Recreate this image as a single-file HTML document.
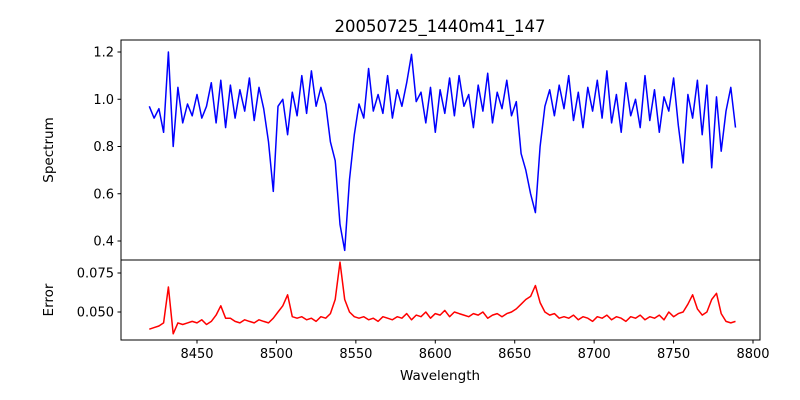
<!DOCTYPE html>
<html><head><meta charset="utf-8"><style>
body{margin:0;background:#fff}
svg{display:block;font-family:"DejaVu Sans","Liberation Sans",sans-serif}
</style></head><body>
<svg id="c" width="800" height="400" viewBox="0 0 800 400">
<rect width="800" height="400" fill="#fff"/>
<text x="440" y="32" text-anchor="middle" font-size="16.5">20050725_1440m41_147</text>
<g id="topPanel"></g>
<g id="botPanel"></g>
<text transform="translate(53,150) rotate(-90)" text-anchor="middle" font-size="13.5">Spectrum</text>
<text transform="translate(53,300) rotate(-90)" text-anchor="middle" font-size="13.5">Error</text>
<text x="440" y="380" text-anchor="middle" font-size="13.5">Wavelength</text>
</svg>
<script>
const wlStart = 8420;
const wlStep = 3;
const spectrum = [0.97,0.92,0.96,0.86,1.20,0.80,1.05,0.90,0.98,0.93,
1.02,0.92,0.97,1.07,0.90,1.08,0.88,1.06,0.92,1.04,
0.95,1.09,0.91,1.05,0.96,0.82,0.61,0.97,1.00,0.85,
1.03,0.93,1.10,0.94,1.12,0.97,1.05,0.98,0.82,0.74,
0.47,0.36,0.66,0.85,0.98,0.92,1.13,0.95,1.02,0.94,
1.10,0.92,1.04,0.97,1.07,1.19,0.99,1.03,0.90,1.05,
0.86,1.04,0.94,1.09,0.93,1.10,0.97,1.02,0.88,1.06,
0.95,1.11,0.90,1.03,0.96,1.08,0.93,0.99,0.77,0.70,
0.60,0.52,0.80,0.97,1.04,0.93,1.06,0.96,1.10,0.91,
1.03,0.88,1.05,0.95,1.08,0.92,1.12,0.90,1.02,0.86,
1.07,0.93,1.00,0.88,1.10,0.91,1.04,0.86,1.01,0.95,
1.09,0.89,0.73,1.02,0.92,1.08,0.85,1.06,0.71,1.01,
0.78,0.95,1.05,0.88];
const errorVals = [.039,.040,.041,.043,.066,.036,.043,.042,.043,.044,
.043,.045,.042,.044,.048,.054,.046,.046,.044,.043,
.045,.044,.043,.045,.044,.043,.046,.050,.054,.061,
.047,.046,.047,.045,.046,.044,.047,.046,.049,.058,
.082,.058,.050,.047,.046,.047,.045,.046,.044,.047,
.046,.045,.047,.046,.049,.045,.048,.047,.050,.046,
.049,.048,.051,.047,.050,.049,.048,.047,.049,.048,
.050,.046,.048,.049,.047,.049,.050,.052,.055,.058,
.060,.067,.056,.050,.048,.049,.046,.047,.046,.048,
.045,.047,.046,.044,.047,.046,.048,.045,.047,.046,
.044,.047,.046,.048,.045,.047,.046,.048,.045,.050,
.047,.049,.050,.055,.061,.052,.048,.050,.058,.062,
.049,.044,.043,.044];
const xTicks = [8450,8500,8550,8600,8650,8700,8750,8800];
const topTicks = [0.4,0.6,0.8,1.0,1.2];
const botTicks = [0.050,0.075];

const NS='http://www.w3.org/2000/svg';
const L=121,R=760,T1=40,B1=260,T2=260,B2=340;
const xs=v=>197+(v-8450)*1.5886;
const yTop=v=>52+(1.2-v)*236.25;
const yBot=v=>312-(v-0.05)*1560;
function mk(tag,attrs,parent){const e=document.createElementNS(NS,tag);for(const k in attrs)e.setAttribute(k,attrs[k]);parent.appendChild(e);return e;}
const topG=document.getElementById('topPanel'),botG=document.getElementById('botPanel');

let p=spectrum.map((v,i)=>(i?'L':'M')+xs(wlStart+i*wlStep).toFixed(1)+','+yTop(v).toFixed(1)).join('');
const l1=mk('path',{d:p,fill:'none',stroke:'#0000ff','stroke-width':1.5,'stroke-linejoin':'round'},topG);


p=errorVals.map((v,i)=>(i?'L':'M')+xs(wlStart+i*wlStep).toFixed(1)+','+yBot(v).toFixed(1)).join('');
const l2=mk('path',{d:p,fill:'none',stroke:'#ff0000','stroke-width':1.5,'stroke-linejoin':'round'},botG);



const f1=mk('rect',{x:L,y:T1,width:R-L,height:B1-T1,fill:'none',stroke:'#000','stroke-width':1},topG);


const f2=mk('rect',{x:L,y:T2,width:R-L,height:B2-T2,fill:'none',stroke:'#000','stroke-width':1},botG);



topTicks.forEach(v=>{const y=yTop(v);
 mk('line',{x1:L-3.5,x2:L,y1:y,y2:y,stroke:'#000'},topG);
 const t=mk('text',{x:L-7,y:y+4.5,'text-anchor':'end','font-size':13},topG);t.textContent=v.toFixed(1);
 
 });
botTicks.forEach(v=>{const y=yBot(v);
 mk('line',{x1:L-3.5,x2:L,y1:y,y2:y,stroke:'#000'},botG);
 const t=mk('text',{x:L-7,y:y+4.5,'text-anchor':'end','font-size':13},botG);t.textContent=v.toFixed(3);
 
 });
xTicks.forEach(v=>{const x=xs(v);
 mk('line',{x1:x,x2:x,y1:B2,y2:B2+3.5,stroke:'#000'},botG);
 const t=mk('text',{x:x,y:B2+18,'text-anchor':'middle','font-size':13},botG);t.textContent=v;
 
 });
</script>
</body></html>
